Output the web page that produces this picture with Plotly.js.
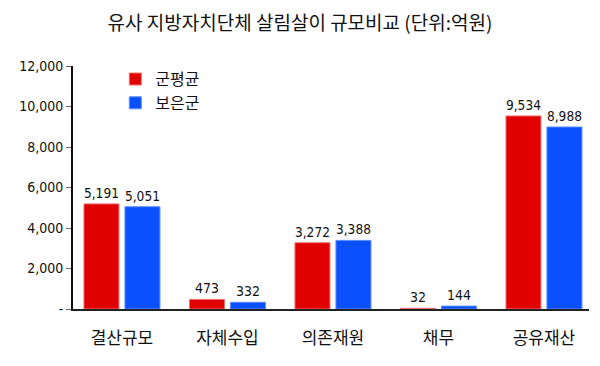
<!DOCTYPE html>
<html><head><meta charset="utf-8">
<script src="https://cdn.plot.ly/plotly-3.0.1.min.js"></script>
<style>html,body{margin:0;padding:0;background:#fff}#chart{width:600px;height:366px}</style>
</head><body><div id="chart"></div>
<script>
const categories = ["결산규모", "자체수입", "의존재원", "채무", "공유재산"];
const seriesNames = ["군평균", "보은군"];
const gunAvg = [5191, 473, 3272, 32, 9534];
const boeun = [5051, 332, 3388, 144, 8988];
const yTickVals = [0, 2000, 4000, 6000, 8000, 10000, 12000];
const yTickText = ["-", "2,000", "4,000", "6,000", "8,000", "10,000", "12,000"];

const fmt = v => v.toLocaleString("en-US");
const numFont = {family: "DejaVu Sans Condensed, Liberation Sans Narrow, sans-serif", size: 14, color: "#111"};

const traces = [
  {type: "bar", name: seriesNames[0], x: categories, y: gunAvg,
   marker: {color: "#e10000", line: {color: "#f07070", width: 1}},
   text: gunAvg.map(fmt), textposition: "outside", textfont: numFont, cliponaxis: false},
  {type: "bar", name: seriesNames[1], x: categories, y: boeun,
   marker: {color: "#0a50ff", line: {color: "#5a8cff", width: 1}},
   text: boeun.map(fmt), textposition: "outside", textfont: numFont, cliponaxis: false}
];

const layout = {
  width: 600, height: 366,
  margin: {l: 73, r: 11, t: 66, b: 57},
  paper_bgcolor: "#fff", plot_bgcolor: "#fff",
  barmode: "group", bargap: 0.223, bargroupgap: 0.146,
  title: {text: "유사 지방자치단체 살림살이 규모비교 (단위:억원)", x: 0.5, xanchor: "center", y: 0.937, yanchor: "middle",
          font: {family: "Noto Sans CJK KR, sans-serif", size: 19, color: "#111"}},
  showlegend: true,
  legend: {x: 0.082, y: 1.016, xanchor: "left", yanchor: "top", bgcolor: "rgba(0,0,0,0)",
           font: {family: "Noto Sans CJK KR, sans-serif", size: 16, color: "#111"},
           tracegroupgap: 4, itemwidth: 30},
  xaxis: {range: [-0.464, 4.427], showline: true, linecolor: "#222", linewidth: 2,
          ticks: "", ticklabelstandoff: 13,
          tickfont: {family: "Noto Sans CJK KR, sans-serif", size: 17, color: "#111"},
          showgrid: false, zeroline: false, fixedrange: true},
  yaxis: {range: [0, 12000], tickvals: yTickVals, ticktext: yTickText,
          showline: true, linecolor: "#111", linewidth: 2, ticks: "outside", ticklen: 5, tickcolor: "#666",
          tickfont: numFont, showgrid: false, zeroline: false, fixedrange: true}
};
Plotly.newPlot("chart", traces, layout, {displayModeBar: false, staticPlot: true});
</script></body></html>
